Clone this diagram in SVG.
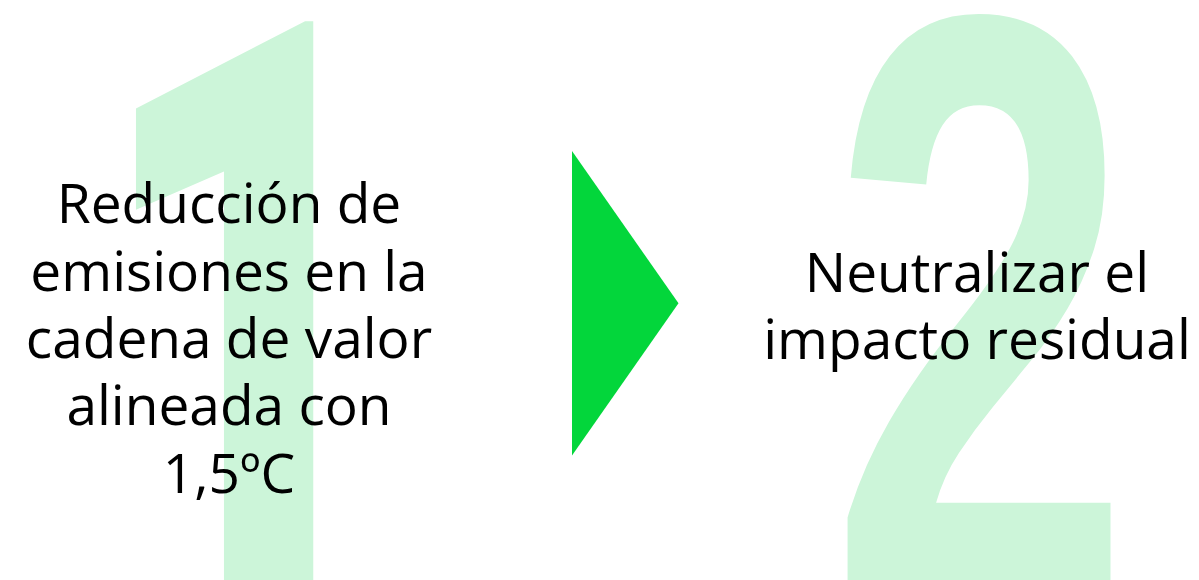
<svg xmlns="http://www.w3.org/2000/svg" width="1199" height="580" viewBox="0 0 1199 580">
  <style>
    .big { font-weight: bold; fill: #ccf5d9; text-anchor: middle; }
    .one { font-family: Roboto, "Open Sans", sans-serif; font-weight: 900; font-size: 810px; }
    .two { font-family: "Liberation Sans", Arial, sans-serif; font-size: 835px; }
    .lbl { font-family: "Open Sans", "Noto Sans", sans-serif; font-size: 55px; fill: #000000; text-anchor: middle; }
  </style>
  <rect x="0" y="0" width="1199" height="580" fill="#ffffff"/>
  <g id="step1">
    <text class="big one" transform="translate(249,597) scale(0.67,1)">1</text>
    <text class="lbl" x="229" y="223">Reducción de</text>
    <text class="lbl" x="229" y="290.5">emisiones en la</text>
    <text class="lbl" x="229" y="358">cadena de valor</text>
    <text class="lbl" x="229" y="425">alineada con</text>
    <text class="lbl" x="229" y="492.5">1,5ºC</text>
  </g>
  <g id="connectors">
    <polygon points="572,151 678.5,303.3 572,455.5" fill="#03d63b"/>
  </g>
  <g id="step2">
    <text class="big two" transform="translate(980.5,597) scale(0.654,1)">2</text>
    <text class="lbl" x="977" y="291.5">Neutralizar el</text>
    <text class="lbl" x="977" y="358.5">impacto residual</text>
  </g>
</svg>
